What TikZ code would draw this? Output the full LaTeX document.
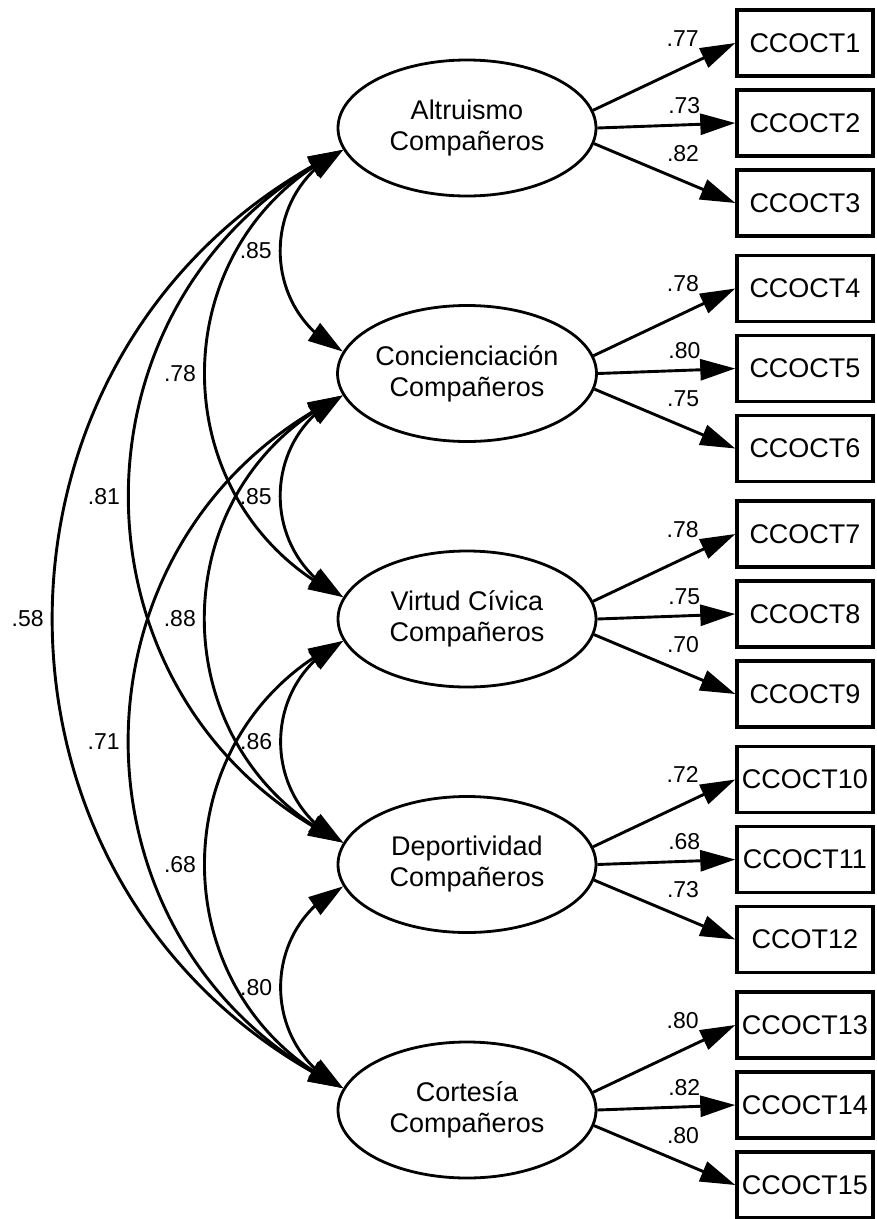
\documentclass[tikz,border=0pt]{standalone}
\usepackage{fontspec}
\setmainfont{Liberation Sans}
\usetikzlibrary{shapes.geometric,arrows.meta,bending}

\tikzset{
  factor/.style={draw, ellipse, line width=2.8pt, minimum width=258pt, minimum height=136pt,
    inner sep=0pt, align=center, font=\fontsize{27}{31}\selectfont},
  item/.style={draw, line width=3.4pt, minimum width=136pt,
    minimum height=66pt, inner sep=0pt, font=\fontsize{27}{31}\selectfont},
  coef/.style={inner sep=0pt, font=\fontsize{23}{25}\selectfont},
  cov/.style={<->, out=206, in=154, looseness=1.18},
}

\begin{document}
\begin{tikzpicture}[x=1pt, y=1pt, line width=2.9pt, >={Triangle[length=35pt,width=21pt]}]
\useasboundingbox (0,0) rectangle (877,-1219);

% factores
\node[factor] (altr) at (467,-128) {Altruismo\\Compañeros};
\node[factor] (conc) at (467,-373.5) {Concienciación\\Compañeros};
\node[factor] (virt) at (467,-619) {Virtud Cívica\\Compañeros};
\node[factor] (dep)  at (467,-864.5) {Deportividad\\Compañeros};
\node[factor] (cort) at (467,-1110) {Cortesía\\Compañeros};

% items y cargas
\foreach \f/\a/\b/\c/\la/\lb/\lc in {altr/CCOCT1/CCOCT2/CCOCT3/.77/.73/.82,
    conc/CCOCT4/CCOCT5/CCOCT6/.78/.80/.75,
    virt/CCOCT7/CCOCT8/CCOCT9/.78/.75/.70,
    dep/CCOCT10/CCOCT11/CCOT12/.72/.68/.73,
    cort/CCOCT13/CCOCT14/CCOCT15/.80/.82/.80}
{
  \path (\f) ++(338,85) node[item] (\a) {\a};
  \path (\f) ++(338,5) node[item] (\b) {\b};
  \path (\f) ++(338,-75) node[item] (\c) {\c};
  \draw[->] (\f.8) -- (\a.west) node[coef, pos=.63, above=20pt] {\la};
  \draw[->] (\f.east) -- (\b.west) node[coef, pos=.63, above=10pt] {\lb};
  \draw[->] (\f.353) -- (\c.west) node[coef, pos=.63, above=18pt] {\lc};
}

% covarianzas
\foreach \a/\b/\r in {altr/conc/.85, altr/virt/.78, altr/dep/.81, altr/cort/.58,
    conc/virt/.85, conc/dep/.88, conc/cort/.71, virt/dep/.86, virt/cort/.68, dep/cort/.80}
  \draw[cov] (\a.190) to node[coef, left=7pt] {\r} (\b.170);
\end{tikzpicture}
\end{document}
